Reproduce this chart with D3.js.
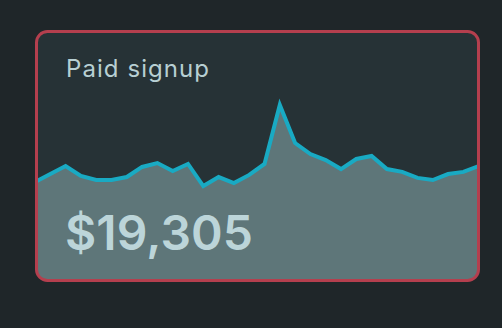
<!DOCTYPE html>
<html>
<head>
<meta charset="utf-8">
<script src="https://cdn.jsdelivr.net/npm/d3@7"></script>
<style>
  html, body { margin: 0; padding: 0; background: #1f2629; }
  svg { display: block; }
</style>
</head>
<body>
<div id="card"></div>
<script>
// daily paid signup amounts ($), 30 days
var days = d3.range(1, 31);
var signups = [565, 610, 655, 599, 576, 576, 593, 650, 672, 627,
               667, 542, 593, 559, 605, 667, 1000, 785, 723, 689,
               638, 695, 712, 638, 622, 588, 576, 610, 622, 655];
var cardTitle = "Paid signup";
var totalLabel = "$19,305";

var svgWidth = 502, svgHeight = 328;

// card box
var card = {x: 36.5, y: 31.5, w: 442, h: 249, r: 11};

var svg = d3.select("#card")
  .append("svg")
  .attr("width", svgWidth)
  .attr("height", svgHeight);

svg.append("clipPath")
  .attr("id", "cardClip")
  .append("rect")
  .attr("x", card.x)
  .attr("y", card.y)
  .attr("width", card.w)
  .attr("height", card.h)
  .attr("rx", card.r);

svg.append("rect")
  .attr("x", card.x)
  .attr("y", card.y)
  .attr("width", card.w)
  .attr("height", card.h)
  .attr("rx", card.r)
  .attr("fill", "#263236");

var x = d3.scaleLinear()
  .domain([1, 30])
  .range([35, 478.7]);

var y = d3.scaleLinear()
  .domain([0, 1000])
  .range([282, 105]);

var data = days.map((d, i) => ({day: d, value: signups[i]}));

var chartGroup = svg.append("g").attr("clip-path", "url(#cardClip)");

chartGroup.append("path")
  .datum(data)
  .attr("fill", "#5e7679")
  .attr("d", d3.area()
    .x(d => x(d.day))
    .y0(card.y + card.h + 5)
    .y1(d => y(d.value)));

chartGroup.append("path")
  .datum(data)
  .attr("fill", "none")
  .attr("stroke", "#19aac3")
  .attr("stroke-width", 4)
  .attr("stroke-linejoin", "miter")
  .attr("d", d3.line()
    .x(d => x(d.day))
    .y(d => y(d.value)));

// title
svg.append("text")
  .attr("x", 66)
  .attr("y", 77)
  .attr("font-family", "Inter, 'Open Sans', sans-serif")
  .attr("font-size", 24)
  .attr("textLength", 143)
  .attr("lengthAdjust", "spacing")
  .attr("fill", "#b7cfd3")
  .text(cardTitle);

// big number
svg.append("text")
  .attr("x", 65)
  .attr("y", 250)
  .attr("font-family", "Inter, 'Open Sans', sans-serif")
  .attr("font-weight", 600)
  .attr("font-size", 48)
  .attr("textLength", 188)
  .attr("lengthAdjust", "spacing")
  .attr("fill", "#bcd5d9")
  .text(totalLabel);

// border on top
svg.append("rect")
  .attr("x", card.x)
  .attr("y", card.y)
  .attr("width", card.w)
  .attr("height", card.h)
  .attr("rx", card.r)
  .attr("fill", "none")
  .attr("stroke", "#b43f4e")
  .attr("stroke-width", 3);
</script>
</body>
</html>
